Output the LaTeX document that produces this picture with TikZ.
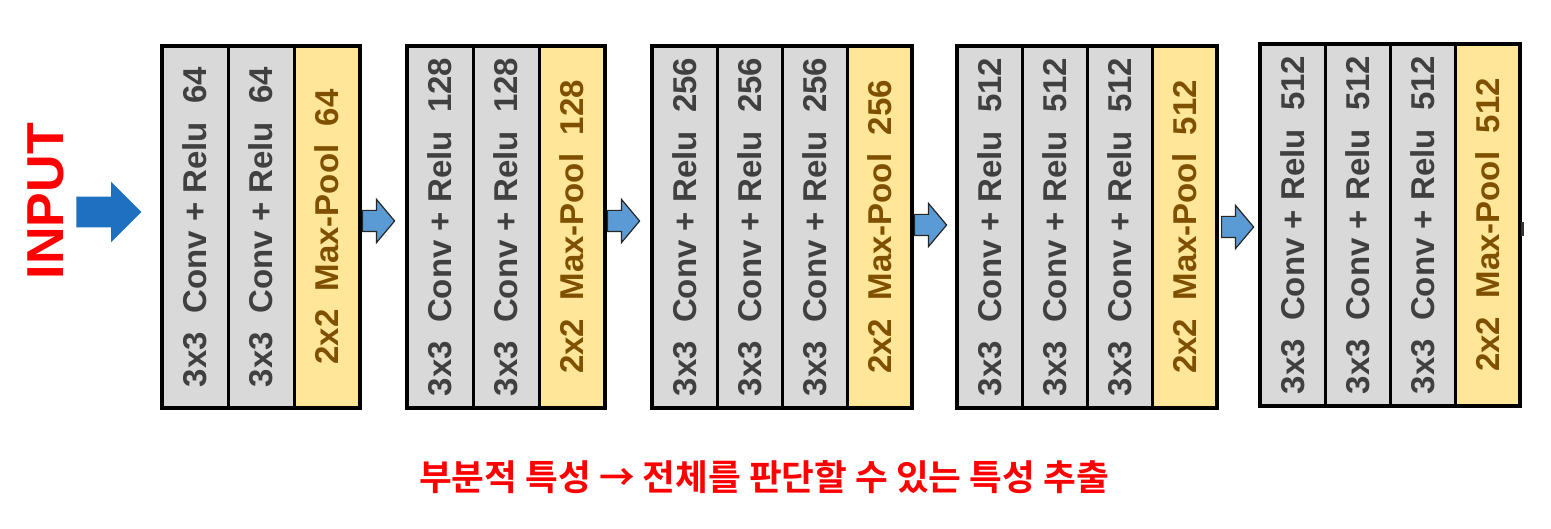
\documentclass[tikz,border=0pt]{standalone}
\usepackage{fontspec}
\setmainfont{Liberation Sans}
\newfontfamily\kor{Noto Sans CJK KR}[BoldFont={Noto Sans CJK KR Bold}]
\usepackage{graphicx}
\usetikzlibrary{shapes.arrows, positioning, fit}

\definecolor{convgray}{RGB}{217,217,217}
\definecolor{poolyellow}{RGB}{255,230,153}
\definecolor{labelgray}{RGB}{64,64,64}
\definecolor{poolbrown}{RGB}{127,80,0}
\definecolor{flowblue}{RGB}{91,155,213}
\definecolor{inblue}{RGB}{31,112,193}
\definecolor{notered}{RGB}{255,0,0}
\newcommand{\uplabel}[1]{\rotatebox{90}{#1}}

\begin{document}
\begin{tikzpicture}[
  x=0.5pt, y=-0.5pt,
  every node/.style={font=\fontsize{16.5}{18}\selectfont\bfseries},
  convbox/.style={rectangle, draw=black, line width=1.5pt, fill=convgray, text=labelgray,
    minimum width=33pt, minimum height=181pt, inner sep=0pt, outer sep=0pt},
  poolbox/.style={convbox, fill=poolyellow, text=poolbrown},
  slim/.style={minimum width=32.5pt},
  blockframe/.style={rectangle, draw=black, line width=2pt, inner sep=0pt, outer sep=0pt},
  flowarr/.style={single arrow, draw=black!85, line width=0.6pt, fill=flowblue,
    minimum height=16pt, minimum width=21pt, inner xsep=0pt, inner ysep=5pt,
    single arrow head extend=5.5pt, single arrow tip angle=100},
  inarr/.style={single arrow, fill=inblue, minimum height=32.5pt, minimum width=30pt,
    inner xsep=0pt, inner ysep=7.5pt, single arrow head extend=7.5pt, single arrow tip angle=90}
]
\useasboundingbox (0,0) rectangle (1551,529);

% block 1
\node[convbox] (conv1a) at (195,227) {\uplabel{3x3\ \ Conv + Relu\ \ 64}};
\node[convbox, right=0pt of conv1a] (conv1b) {\uplabel{3x3\ \ Conv + Relu\ \ 64}};
\node[poolbox, right=0pt of conv1b] (pool1) {\uplabel{2x2\ \ Max-Pool\ \ 64}};
\node[blockframe, fit=(conv1a)(pool1)] (blk1) {};

% block 2
\node[convbox, right=23.5pt of pool1] (conv2a) {\uplabel{3x3\ \ Conv + Relu\ \ 128}};
\node[convbox, right=0pt of conv2a] (conv2b) {\uplabel{3x3\ \ Conv + Relu\ \ 128}};
\node[poolbox, right=0pt of conv2b] (pool2) {\uplabel{2x2\ \ Max-Pool\ \ 128}};
\node[blockframe, fit=(conv2a)(pool2)] (blk2) {};

% block 3
\node[convbox, slim, right=23.5pt of pool2] (conv3a) {\uplabel{3x3\ \ Conv + Relu\ \ 256}};
\node[convbox, slim, right=0pt of conv3a] (conv3b) {\uplabel{3x3\ \ Conv + Relu\ \ 256}};
\node[convbox, slim, right=0pt of conv3b] (conv3c) {\uplabel{3x3\ \ Conv + Relu\ \ 256}};
\node[poolbox, slim, right=0pt of conv3c] (pool3) {\uplabel{2x2\ \ Max-Pool\ \ 256}};
\node[blockframe, fit=(conv3a)(pool3)] (blk3) {};

% block 4
\node[convbox, slim, right=22.5pt of pool3] (conv4a) {\uplabel{3x3\ \ Conv + Relu\ \ 512}};
\node[convbox, slim, right=0pt of conv4a] (conv4b) {\uplabel{3x3\ \ Conv + Relu\ \ 512}};
\node[convbox, slim, right=0pt of conv4b] (conv4c) {\uplabel{3x3\ \ Conv + Relu\ \ 512}};
\node[poolbox, slim, right=0pt of conv4c] (pool4) {\uplabel{2x2\ \ Max-Pool\ \ 512}};
\node[blockframe, fit=(conv4a)(pool4)] (blk4) {};

% block 5
\node[convbox, slim, right=21.5pt of pool4, yshift=1pt] (conv5a) {\uplabel{3x3\ \ Conv + Relu\ \ 512}};
\node[convbox, slim, right=0pt of conv5a] (conv5b) {\uplabel{3x3\ \ Conv + Relu\ \ 512}};
\node[convbox, slim, right=0pt of conv5b] (conv5c) {\uplabel{3x3\ \ Conv + Relu\ \ 512}};
\node[poolbox, slim, right=0pt of conv5c] (pool5) {\uplabel{2x2\ \ Max-Pool\ \ 512}};
\node[blockframe, fit=(conv5a)(pool5)] (blk5) {};

% arrows between blocks
\node[flowarr, right=1pt of blk1, yshift=3pt] (flow1) {};
\node[flowarr, right=1pt of blk2, yshift=3pt] (flow2) {};
\node[flowarr, right=1pt of blk3, yshift=1pt] (flow3) {};
\node[flowarr, right=2pt of blk4] (flow4) {};
\node[fill=black!80, minimum width=1.5pt, minimum height=7pt, inner sep=0pt, right=0.5pt of blk5, yshift=-2pt] (stub) {};

% input
\node[inarr, left=10pt of blk1, yshift=7.5pt] (inflow) {};
\node[left=2.5pt of inflow, yshift=5.5pt, text=notered, font=\fontsize{26}{28}\selectfont\bfseries] (input) {\uplabel{INPUT}};

% note
\node[text=notered, font=\kor\fontsize{17.8}{20}\selectfont\bfseries] (note) at (764,477) {부분적 특성 → 전체를 판단할 수 있는 특성 추출};
\end{tikzpicture}
\end{document}
